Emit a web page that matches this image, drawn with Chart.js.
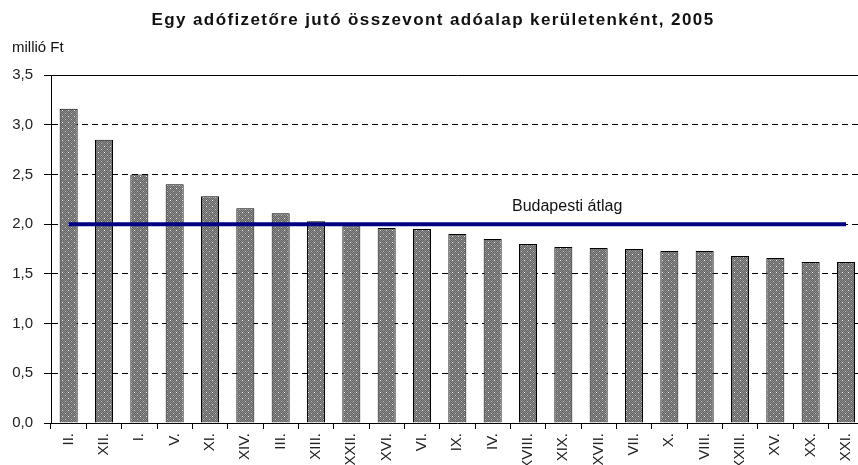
<html>
  <head>
    <script src="https://cdn.jsdelivr.net/npm/chart.js"></script>
    <style>
      html, body { margin: 0; background: #fff; overflow: hidden; }
    </style>
  </head>
  <body>
    <!-- the original picture is cut off on the right, so the canvas runs a bit past the window -->
    <canvas id="graph-districts" width="868" height="465"></canvas>
    <script>
      // data
      const districts = ["II.", "XII.", "I.", "V.", "XI.", "XIV.", "III.", "XIII.", "XXII.", "XVI.", "VI.", "IX.",
        "IV.", "XVIII.", "XIX.", "XVII.", "VII.", "X.", "VIII.", "XXIII.", "XV.", "XX.", "XXI."];
      const taxBase = [3.16, 2.85, 2.50, 2.40, 2.28, 2.16, 2.11, 2.03, 1.98, 1.96, 1.95, 1.90,
        1.85, 1.80, 1.77, 1.76, 1.75, 1.73, 1.73, 1.68, 1.66, 1.62, 1.62];
      const budapestAvg = [2.0, 2.0, 2.0, 2.0, 2.0, 2.0, 2.0, 2.0, 2.0, 2.0, 2.0, 2.0,
        2.0, 2.0, 2.0, 2.0, 2.0, 2.0, 2.0, 2.0, 2.0, 2.0, 2.0];
      const yTicks = [0, 0.5, 1.0, 1.5, 2.0, 2.5, 3.0, 3.5];

      const titleText = "Egy adófizetőre jutó összevont adóalap kerületenként, 2005";
      const unitText = "millió Ft";
      const avgText = "Budapesti átlag";

      // dotted grey fill like the original
      function makePattern() {
        var c = document.createElement("canvas");
        c.width = 6; c.height = 6;
        var p = c.getContext("2d");
        p.fillStyle = "#666666";
        p.fillRect(0, 0, 6, 6);
        p.fillStyle = "#8a8a8a";
        for (var y = 0; y < 6; y++) {
          for (var x = 0; x < 6; x++) {
            if ((x + y) % 2 == 0) p.fillRect(x, y, 1, 1);
          }
        }
        p.fillStyle = "#f0f0f0";
        p.fillRect(2, 2, 1, 1);
        p.fillStyle = "#c0c0c0";
        p.fillRect(5, 5, 1, 1);
        return p.createPattern(c, "repeat");
      }

      const textPlugin = {
        id: "texts",
        beforeDatasetsDraw(chart) {
          // top frame line
          const ctx = chart.ctx;
          const a = chart.chartArea;
          ctx.save();
          ctx.strokeStyle = "#000";
          ctx.lineWidth = 1;
          ctx.beginPath();
          ctx.moveTo(a.left, a.top + 0.5);
          ctx.lineTo(a.right, a.top + 0.5);
          ctx.stroke();
          ctx.restore();
        },
        afterDraw(chart) {
          const ctx = chart.ctx;
          ctx.save();
          ctx.fillStyle = "#111";
          ctx.textBaseline = "alphabetic";
          ctx.font = "bold 17px 'Liberation Sans', Arial";
          ctx.letterSpacing = "1.4px";
          ctx.textAlign = "left";
          var w = ctx.measureText(titleText).width;
          ctx.fillText(titleText, 433 - w / 2, 25);
          ctx.letterSpacing = "0px";
          ctx.font = "15px 'Liberation Sans', Arial";
          ctx.fillText(unitText, 12, 52);
          ctx.font = "16px 'Liberation Sans', Arial";
          ctx.fillText(avgText, 512, 211);
          ctx.restore();
        }
      };

      var ctx = document.getElementById("graph-districts").getContext("2d");
      var graph = new Chart(ctx, {
        type: "bar",
        data: {
          labels: districts,
          datasets: [{
            type: "line",
            data: budapestAvg,
            borderColor: "#000080",
            borderWidth: 4,
            pointRadius: 0,
            fill: false,
            order: 0
          }, {
            data: taxBase,
            backgroundColor: makePattern(),
            borderColor: "#000",
            borderWidth: 1,
            barPercentage: 0.51,
            categoryPercentage: 1,
            order: 1
          }]
        },
        options: {
          responsive: false,
          animation: false,
          layout: { padding: { left: 0, right: 0, top: 75, bottom: 0 } },
          plugins: { legend: { display: false }, tooltip: { enabled: false } },
          scales: {
            x: {
              afterFit: function (s) { s.height = 42; },
              grid: { drawOnChartArea: false, drawTicks: true, tickLength: 6, tickColor: "#000", offset: true },
              border: { color: "#000", width: 1 },
              ticks: {
                minRotation: 90, maxRotation: 90, autoSkip: false, padding: 4,
                color: "#222", font: { family: "'Liberation Sans', Arial", size: 15 }
              }
            },
            y: {
              min: 0, max: 3.5,
              afterFit: function (s) { s.width = 51; },
              afterBuildTicks: function (s) { s.ticks = yTicks.map(function (v) { return { value: v }; }); },
              grid: {
                color: function (c) { return (c.tick && (c.tick.value == 0 || c.tick.value == 3.5)) ? "rgba(0,0,0,0)" : "#000"; },
                tickColor: "#000", tickLength: 7, tickBorderDash: []
              },
              border: { color: "#000", width: 1, dash: [6, 4] },
              ticks: {
                padding: 11, color: "#222",
                font: { family: "'Liberation Sans', Arial", size: 15 },
                callback: function (v) { return v.toFixed(1).replace(".", ","); }
              }
            }
          }
        },
        plugins: [textPlugin]
      });
    </script>
  </body>
</html>
